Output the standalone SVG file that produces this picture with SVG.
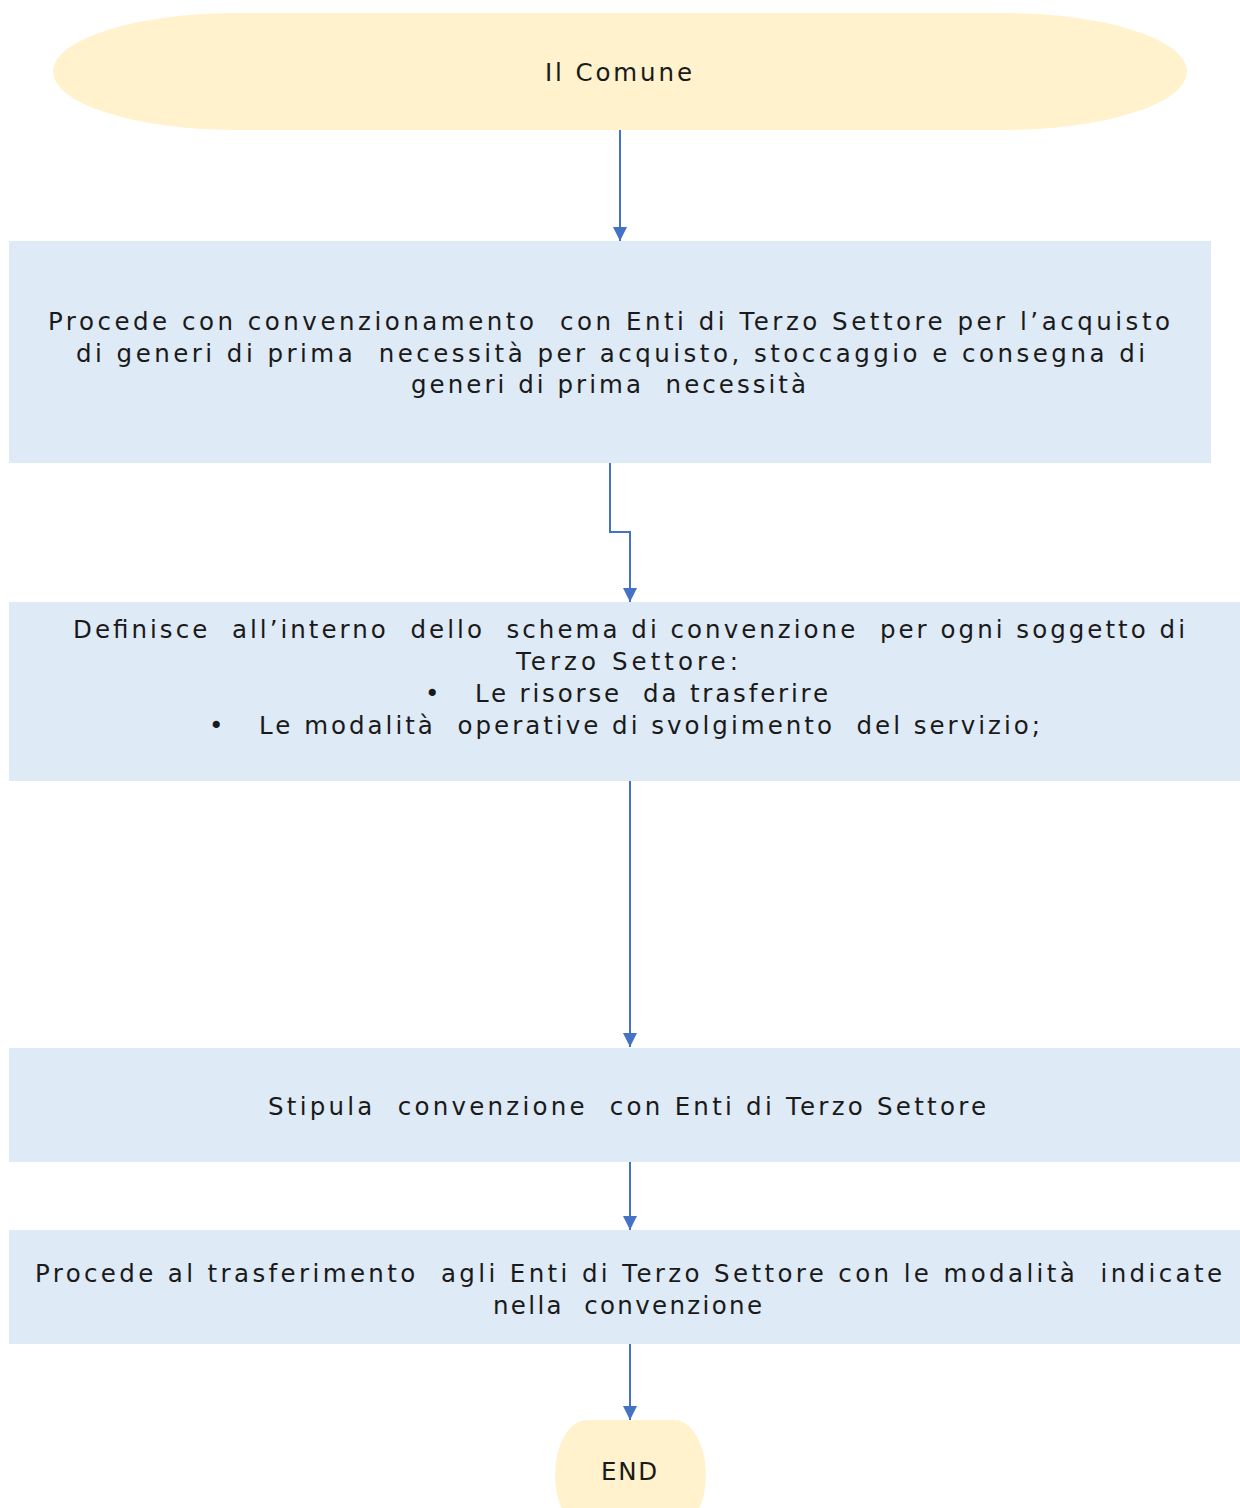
<svg xmlns="http://www.w3.org/2000/svg" width="1240" height="1508" viewBox="0 0 1240 1508">
<style>
.term{fill:#FFF2CC}
.box{fill:#DEEAF6}
.t{font-family:"DejaVu Sans","Liberation Sans",sans-serif;font-size:24.5px;fill:#1a1a1a;white-space:pre}
.c{fill:none;stroke:#4472C4;stroke-width:2}
</style>
<defs>
<marker id="ah" viewBox="0 0 10 10" refX="10" refY="5" markerWidth="14" markerHeight="14" markerUnits="userSpaceOnUse" orient="auto">
<path d="M0,0 L10,5 L0,10 z" fill="#4472C4"/>
</marker>
</defs>
<rect width="1240" height="1508" fill="#fff"/>
<g id="connectors">
<path class="c" d="M620,130 V241" marker-end="url(#ah)"/>
<path class="c" d="M610,463 V532 H630 V602" marker-end="url(#ah)"/>
<path class="c" d="M630,781 V1047" marker-end="url(#ah)"/>
<path class="c" d="M630,1162 V1230" marker-end="url(#ah)"/>
<path class="c" d="M630,1344 V1420" marker-end="url(#ah)"/>
</g>
<g id="start">
<rect class="term" x="53" y="13" width="1134" height="117" rx="184" ry="58.5"/>
<text class="t" x="545" y="81" textLength="147" lengthAdjust="spacing">Il Comune</text>
</g>
<g id="step1">
<rect class="box" x="9" y="241" width="1202" height="222"/>
<text class="t" x="48" y="330" textLength="1122" lengthAdjust="spacing">Procede con convenzionamento  con Enti di Terzo Settore per l’acquisto</text>
<text class="t" x="76" y="362" textLength="1069" lengthAdjust="spacing">di generi di prima  necessità per acquisto, stoccaggio e consegna di</text>
<text class="t" x="411" y="393" textLength="395" lengthAdjust="spacing">generi di prima  necessità</text>
</g>
<g id="step2">
<rect class="box" x="9" y="602" width="1231" height="179"/>
<text class="t" x="73" y="638" textLength="1112" lengthAdjust="spacing">Definisce  all’interno  dello  schema di convenzione  per ogni soggetto di</text>
<text class="t" x="516" y="670" textLength="222" lengthAdjust="spacing">Terzo Settore:</text>
<text class="t" x="425" y="702">•</text>
<text class="t" x="475" y="702" textLength="353" lengthAdjust="spacing">Le risorse  da trasferire</text>
<text class="t" x="209" y="734">•</text>
<text class="t" x="259" y="734" textLength="781" lengthAdjust="spacing">Le modalità  operative di svolgimento  del servizio;</text>
</g>
<g id="step3">
<rect class="box" x="9" y="1048" width="1231" height="114"/>
<text class="t" x="268" y="1115" textLength="718" lengthAdjust="spacing">Stipula  convenzione  con Enti di Terzo Settore</text>
</g>
<g id="step4">
<rect class="box" x="9" y="1230" width="1231" height="114"/>
<text class="t" x="35" y="1282" textLength="1187" lengthAdjust="spacing">Procede al trasferimento  agli Enti di Terzo Settore con le modalità  indicate</text>
<text class="t" x="493" y="1314" textLength="269" lengthAdjust="spacing">nella  convenzione</text>
</g>
<g id="end">
<rect class="term" x="555" y="1420" width="151" height="110" rx="32" ry="55"/>
<text class="t" x="601" y="1480" textLength="56" lengthAdjust="spacing">END</text>
</g>
</svg>
